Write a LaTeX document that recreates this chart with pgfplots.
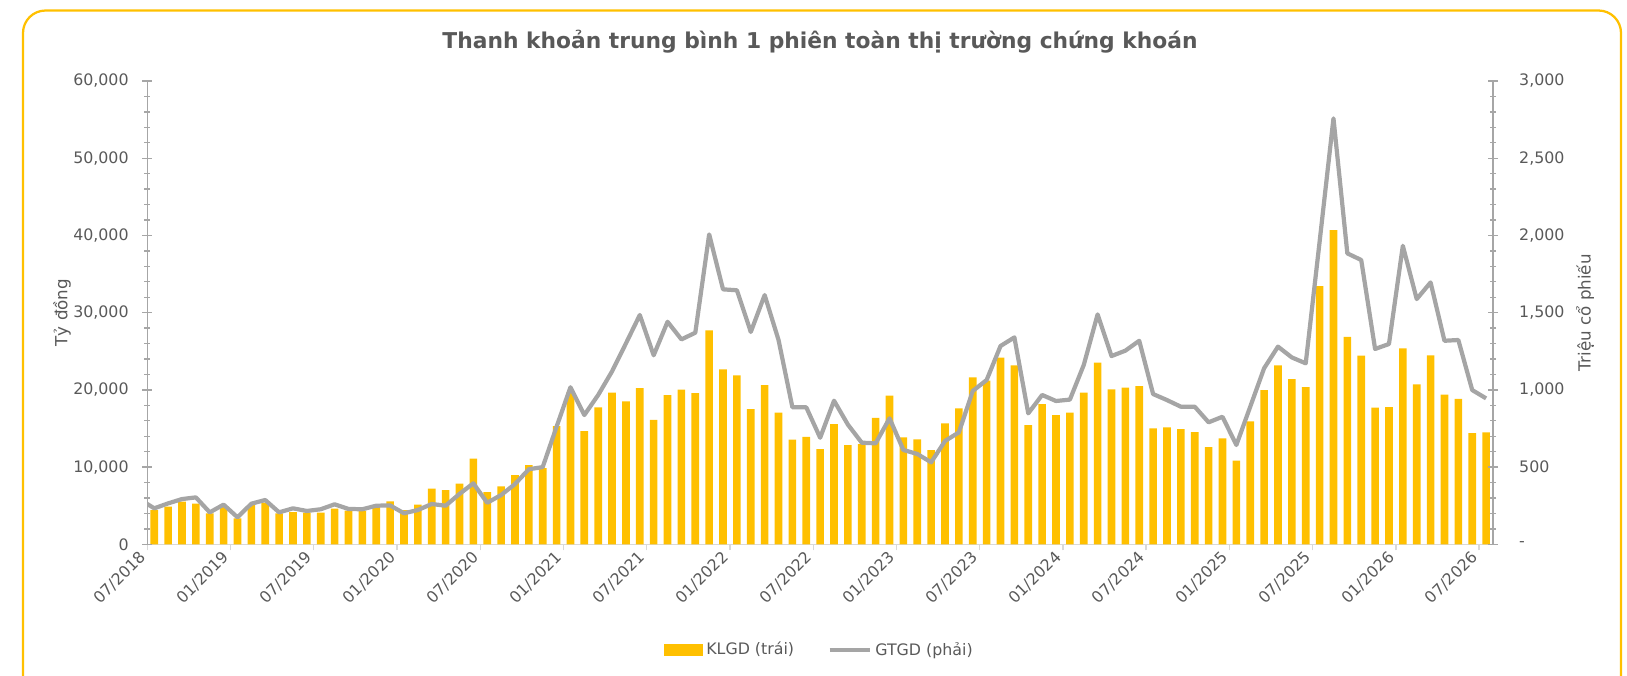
\documentclass[border=0pt]{standalone}
\usepackage{fontspec}
\setmainfont{DejaVu Sans}
\usepackage{pgfplots}
\usepackage{pgfplotstable}
\pgfplotsset{compat=1.18}

\definecolor{klgd}{HTML}{FFC000}
\definecolor{gtgd}{HTML}{A5A5A5}
\definecolor{txt}{HTML}{595959}
\definecolor{axgray}{HTML}{A6A6A6}
\definecolor{xgray}{HTML}{D9D9D9}

% KLGD, monthly 07/2018 .. 07/2026 (idx 0..96)
\pgfplotstableread{
idx klgd
0 4440
1 4870
2 5520
3 5260
4 4010
5 4900
6 3370
7 5090
8 5390
9 4010
10 4180
11 4100
12 4100
13 4610
14 4350
15 4330
16 4870
17 5570
18 4440
19 5130
20 7200
21 7030
22 7850
23 11090
24 6770
25 7510
26 8970
27 10270
28 9880
29 15320
30 19700
31 14670
32 17740
33 19630
34 18520
35 20240
36 16100
37 19330
38 20020
39 19590
40 27710
41 22660
42 21880
43 17520
44 20630
45 17040
46 13550
47 13900
48 12340
49 15580
50 12860
51 12990
52 16360
53 19250
54 13850
55 13600
56 12210
57 15670
58 17610
59 21630
60 21190
61 24170
62 23180
63 15450
64 18170
65 16740
66 17040
67 19630
68 23520
69 20070
70 20280
71 20500
72 15020
73 15150
74 14930
75 14540
76 12600
77 13730
78 10830
79 15930
80 19980
81 23180
82 21400
83 20370
84 33450
85 40700
86 26850
87 24430
88 17690
89 17780
90 25380
91 20720
92 24470
93 19380
94 18820
95 14410
96 14500
}\klgdtab

% GTGD (right axis); the point at -1 only shows as the clipped start
\pgfplotstableread{
idx gtgd
-1 289
0 233
1 265
2 293
3 304
4 207
5 257
6 175
7 263
8 287
9 207
10 233
11 216
12 227
13 259
14 229
15 227
16 250
17 252
18 201
19 222
20 261
21 250
22 326
23 395
24 269
25 319
26 390
27 486
28 500
29 761
30 1017
31 837
32 967
33 1120
34 1301
35 1485
36 1224
37 1441
38 1327
39 1370
40 2007
41 1651
42 1645
43 1375
44 1614
45 1323
46 887
47 887
48 690
49 930
50 775
51 658
52 654
53 816
54 611
55 585
56 531
57 669
58 725
59 993
60 1064
61 1284
62 1340
63 848
64 967
65 928
66 937
67 1161
68 1489
69 1219
70 1254
71 1318
72 973
73 934
74 891
75 891
76 790
77 826
78 643
79 891
80 1140
81 1280
82 1210
83 1172
84 1959
85 2758
86 1884
87 1841
88 1265
89 1297
90 1933
91 1588
92 1696
93 1318
94 1323
95 999
96 945
}\gtgdtab

\pgfplotsset{
  base/.style={
    scale only axis, width=26.914cm, height=9.266cm,
    at={(2.946cm,-10.886cm)}, anchor=south west,
    xmin=-0.5, xmax=96.5,
    scaled y ticks=false,
    ticklabel style={font=\fontsize{9}{10}\selectfont, text=txt},
  },
  yax/.style={
    y axis line style={draw=axgray, line width=0.8pt},
    tick style={draw=axgray, line width=0.8pt},
    minor y tick num=4, tick align=center,
    major tick length=0.2cm, minor tick length=0.12cm,
  },
}

\begin{document}
\begin{tikzpicture}
\path[use as bounding box] (0,0) rectangle (32.54,-13.5);
\draw[klgd, line width=0.045cm, rounded corners=0.45cm]
  (0.46,-14) -- (0.46,-0.21) -- (32.42,-0.21) -- (32.42,-14);

\node[font=\fontsize{12.4}{15}\selectfont\bfseries, text=txt] at (16.4,-0.84)
  {Thanh khoản trung bình 1 phiên toàn thị trường chứng khoán};

% bars + x axis
\begin{axis}[base, ymin=0, ymax=60000,
  axis x line*=bottom, hide y axis,
  x axis line style={draw=xgray, line width=0.8pt},
  tick style={draw=xgray, line width=0.8pt},
  tick align=outside, major tick length=0.12cm,
  xtick={-0.5,5.5,...,95.5},
  xticklabels={07/2018,01/2019,07/2019,01/2020,07/2020,01/2021,07/2021,01/2022,
    07/2022,01/2023,07/2023,01/2024,07/2024,01/2025,07/2025,01/2026,07/2026},
  xticklabel style={rotate=45, anchor=east},
  ybar, bar width=0.55,
]
\addplot[fill=klgd, draw=none] table[x=idx, y=klgd] {\klgdtab};
\end{axis}

% left axis
\begin{axis}[base, yax, ymin=0, ymax=60000,
  hide x axis, axis y line*=left,
  ytick={0,10000,...,60000},
  yticklabels={0,{10,000},{20,000},{30,000},{40,000},{50,000},{60,000}},
  yticklabel style={xshift=-0.15cm},
  ylabel={Tỷ đồng},
  every axis y label/.style={at={(rel axis cs:-0.0634,0.5)}, rotate=90,
    anchor=center, font=\fontsize{9.5}{11}\selectfont, text=txt},
]
\end{axis}

% line on right axis
\begin{axis}[base, yax, ymin=0, ymax=3000,
  hide x axis, axis y line*=right,
  ytick={0,500,...,3000},
  yticklabels={-,500,{1,000},{1,500},{2,000},{2,500},{3,000}},
  yticklabel style={xshift=0.3cm},
  ylabel={Triệu cổ phiếu},
  every axis y label/.style={at={(rel axis cs:1.0684,0.5)}, rotate=90,
    anchor=center, font=\fontsize{9.5}{11}\selectfont, text=txt},
  legend style={at={(0.5,-0.228)}, anchor=center, draw=none, fill=none,
    legend columns=2, font=\fontsize{9}{10}\selectfont, text=txt,
    /tikz/every even column/.append style={column sep=0.6cm}},
]
\addlegendimage{legend image code/.code={\fill[klgd] (0cm,-0.11cm) rectangle (0.76cm,0.11cm);}}
\addlegendentry{KLGD (trái)}
\addplot[gtgd, line width=2.4pt, line join=round,
  legend image code/.code={\draw[gtgd, line width=2.4pt] (0cm,0cm) -- (0.8cm,0cm);}]
  table[x=idx, y=gtgd] {\gtgdtab};
\addlegendentry{GTGD (phải)}
\end{axis}
\end{tikzpicture}
\end{document}
